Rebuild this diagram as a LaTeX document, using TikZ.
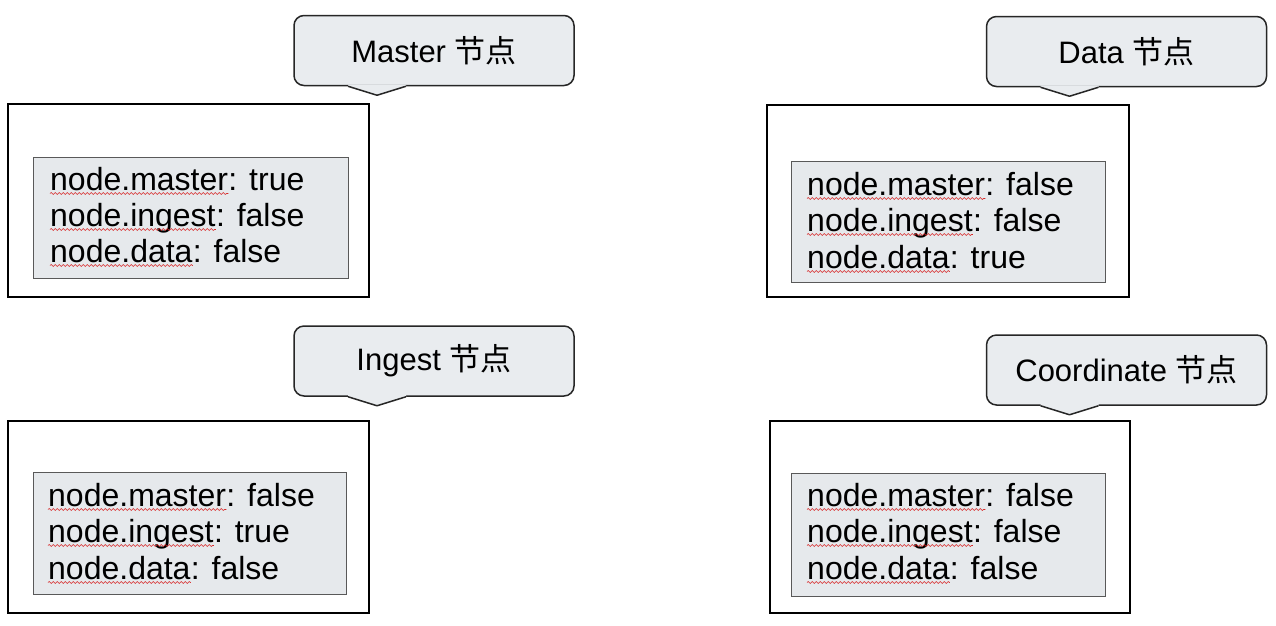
\documentclass[tikz,border=0pt]{standalone}
\usepackage{fontspec}
\setmainfont{Liberation Sans}
\newfontfamily\cjk{Noto Sans CJK SC}
\usetikzlibrary{calc,decorations.pathmorphing}

\definecolor{callfill}{RGB}{233,236,239}
\definecolor{boxfill}{RGB}{230,233,236}
\definecolor{spellred}{RGB}{215,40,40}

\tikzset{
  x=1pt, y=-1pt,
  outerbox/.style={draw=black, line width=2pt},
  innerbox/.style={draw=black!65, fill=boxfill, line width=1pt},
  callbox/.style={draw=black!85, fill=callfill, line width=1.5pt,
    rounded corners=10pt, minimum width=280pt, minimum height=70pt,
    inner sep=0pt, font=\fontsize{31}{36}\selectfont},
  callline/.style={draw=black!85, line width=1.5pt, line join=round},
  keytext/.style={anchor=base west, inner sep=0pt, font=\fontsize{32}{36}\selectfont},
  spell/.style={draw=spellred, line width=0.6pt, decorate,
    decoration={snake, amplitude=1pt, segment length=4pt}},
}

% one "key: value" line with a wavy underline under the key
\newcommand\kvline[5]{%
  \node[keytext] (#1k) at (#2,#3) {#4};
  \node[keytext] (#1v) at (#1k.base east) {#5};
  \draw[spell] ($(#1k.base west)+(0,3.5)$) -- ($(#1k.base east)+(0,3.5)$);
}

% speech-bubble label with a pointer below, left of centre
\newcommand\callout[4]{%
  \node[callbox] (#1) at (#2,#3) {#4};
  \fill[callfill] ($(#1.south)+(-86,-1.6)$) -- ($(#1.south)+(-86,0)$)
     -- ($(#1.south)+(-57,9)$) -- ($(#1.south)+(-28,0)$)
     -- ($(#1.south)+(-28,-1.6)$) -- cycle;
  \draw[callline] ($(#1.south)+(-86,0)$) -- ($(#1.south)+(-57,9)$)
     -- ($(#1.south)+(-28,0)$);
}

\begin{document}
\begin{tikzpicture}
\useasboundingbox (0,0) rectangle (1276,625);
\fill[white] (0,0) rectangle (1276,625);

% Master
\callout{mcall}{434}{50.5}{Master {\cjk 节点}}
\draw[outerbox] (8,104) rectangle (369,297);
\draw[innerbox] (33,157) rectangle (348,278);
\kvline{ma}{50}{190}{node.master}{: true}
\kvline{mb}{50}{226}{node.ingest}{: false}
\kvline{mc}{50}{262}{node.data}{: false}

% Data
\callout{dcall}{1126.5}{51.5}{Data {\cjk 节点}}
\draw[outerbox] (767,105) rectangle (1129,297);
\draw[innerbox] (791,161) rectangle (1105,282);
\kvline{da}{807}{195}{node.master}{: false}
\kvline{db}{807}{231}{node.ingest}{: false}
\kvline{dc}{807}{268}{node.data}{: true}

% Ingest
\callout{icall}{434}{361}{Ingest {\cjk 节点}}
\draw[outerbox] (8,421) rectangle (369,613);
\draw[innerbox] (33,472) rectangle (346,594);
\kvline{ia}{48}{506}{node.master}{: false}
\kvline{ib}{48}{542}{node.ingest}{: true}
\kvline{ic}{48}{579}{node.data}{: false}

% Coordinate
\callout{ccall}{1126.5}{370}{Coordinate {\cjk 节点}}
\draw[outerbox] (770,421) rectangle (1130,613);
\draw[innerbox] (791,473) rectangle (1105,596);
\kvline{ca}{807}{506}{node.master}{: false}
\kvline{cb}{807}{542}{node.ingest}{: false}
\kvline{cc}{807}{579}{node.data}{: false}
\end{tikzpicture}
\end{document}
